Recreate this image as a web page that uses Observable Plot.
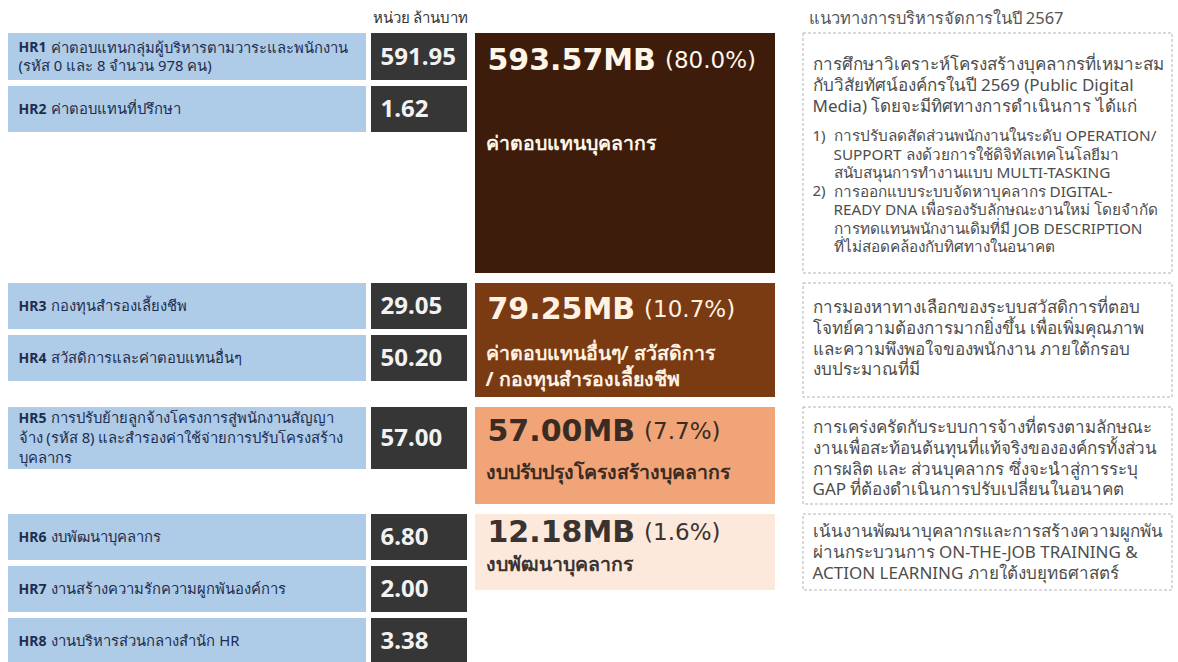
<!DOCTYPE html>
<html><head><meta charset="utf-8">
<script src="https://cdn.jsdelivr.net/npm/d3@7"></script>
<script src="https://cdn.jsdelivr.net/npm/@observablehq/plot@0.6"></script>
<style>
body{margin:0;background:#fff;}
#chart svg{display:block;}
</style></head><body><div id="chart"></div>
<script>
// ---------------- DATA ----------------
const codes = ["HR1","HR2","HR3","HR4","HR5","HR6","HR7","HR8"];
const labels = [
  "ค่าตอบแทนกลุ่มผู้บริหารตามวาระและพนักงาน\n(รหัส 0 และ 8 จำนวน 978 คน)",
  "ค่าตอบแทนที่ปรึกษา",
  "กองทุนสำรองเลี้ยงชีพ",
  "สวัสดิการและค่าตอบแทนอื่นๆ",
  "การปรับย้ายลูกจ้างโครงการสู่พนักงานสัญญา\nจ้าง (รหัส 8) และสำรองค่าใช้จ่ายการปรับโครงสร้าง\nบุคลากร",
  "งบพัฒนาบุคลากร",
  "งานสร้างความรักความผูกพันองค์การ",
  "งานบริหารส่วนกลางสำนัก HR"
];
const values = [591.95, 1.62, 29.05, 50.20, 57.00, 6.80, 2.00, 3.38];
const rowGroup = [0, 0, 1, 1, 2, 3, 3, 3];

const groupKeys = ["pay", "welfare", "restructure", "development"];
const groupTitles = [
  "ค่าตอบแทนบุคลากร",
  "ค่าตอบแทนอื่นๆ/ สวัสดิการ\n/ กองทุนสำรองเลี้ยงชีพ",
  "งบปรับปรุงโครงสร้างบุคลากร",
  "งบพัฒนาบุคลากร"
];
const groupNotes = [
  "การศึกษาวิเคราะห์โครงสร้างบุคลากรที่เหมาะสม\nกับวิสัยทัศน์องค์กรในปี 2569 (Public Digital\nMedia) โดยจะมีทิศทางการดำเนินการ ได้แก่",
  "การมองหาทางเลือกของระบบสวัสดิการที่ตอบ\nโจทย์ความต้องการมากยิ่งขึ้น เพื่อเพิ่มคุณภาพ\nและความพึงพอใจของพนักงาน ภายใต้กรอบ\nงบประมาณที่มี",
  "การเคร่งครัดกับระบบการจ้างที่ตรงตามลักษณะ\nงานเพื่อสะท้อนต้นทุนที่แท้จริงขององค์กรทั้งส่วน\nการผลิต และ ส่วนบุคลากร ซึ่งจะนำสู่การระบุ\nGAP ที่ต้องดำเนินการปรับเปลี่ยนในอนาคต",
  "เน้นงานพัฒนาบุคลากรและการสร้างความผูกพัน\nผ่านกระบวนการ ON-THE-JOB TRAINING &\nACTION LEARNING ภายใต้งบยุทธศาสตร์"
];
const noteItemNums = ["1)", "2)"];
const noteItemTexts = [
  "การปรับลดสัดส่วนพนักงานในระดับ OPERATION/\nSUPPORT ลงด้วยการใช้ดิจิทัลเทคโนโลยีมา\nสนับสนุนการทำงานแบบ MULTI-TASKING",
  "การออกแบบระบบจัดหาบุคลากร DIGITAL-\nREADY DNA เพื่อรองรับลักษณะงานใหม่ โดยจำกัด\nการทดแทนพนักงานเดิมที่มี JOB DESCRIPTION\nที่ไม่สอดคล้องกับทิศทางในอนาคต"
];
const unitLabel = "หน่วย ล้านบาท";
const notesHeader = "แนวทางการบริหารจัดการในปี 2567";

// ---------------- STYLE / LAYOUT ----------------
const W = 1178, H = 662;
const FONT = "'Noto Sans', 'DejaVu Sans', sans-serif";
const BIGFONT = "'DejaVu Sans', 'Noto Sans', sans-serif";
const groupFill = ["#3d1c0b", "#7a3a12", "#f0a477", "#fce9dc"];
const groupInk  = ["#fff6ea", "#fff2e2", "#3b2b22", "#3a3330"];
const col = {label: [8, 366], value: [371, 467], summary: [475, 775], note: [803, 1172]};
const LY = {
  top: 33, rowMin: 46, linePx: 15, rowPad: 17, rowGap: 6, groupGap: 10,
  groupBoxH: [240, 114, 97, 76],
  amountDy: [27, 26, 24, 18], titleDy: [110, 70, 65, 50], titleStep: 26,
  noteDy: [31, 24, 20, 17], noteStep: 20.8, itemGap: 30, itemStep: 18.5,
  labelStep: 20
};
const ctx = document.createElement("canvas").getContext("2d");
const measure = (t, font) => { ctx.font = font; return ctx.measureText(t).width; };

// ---------------- DERIVED ----------------
const total = d3.sum(values);
const rows = codes.map((code, i) => ({code, label: labels[i], value: values[i], group: rowGroup[i]}));
const groups = groupKeys.map((key, g) => {
  const amount = d3.sum(rows.filter(r => r.group === g), r => r.value);
  return {key, g, amount, share: amount / total, title: groupTitles[g], note: groupNotes[g]};
});
let yCursor = LY.top;
groups.forEach(gr => {
  gr.y1 = yCursor;
  let ry = yCursor;
  rows.filter(r => r.group === gr.g).forEach(r => {
    const n = r.label.split("\n").length;
    r.y1 = ry; r.y2 = ry + Math.max(LY.rowMin, n * LY.linePx + LY.rowPad);
    ry = r.y2 + LY.rowGap;
  });
  gr.y2 = yCursor + LY.groupBoxH[gr.g];
  yCursor = Math.max(gr.y2, ry - LY.rowGap) + LY.groupGap;
});

const labelFontBold = `bold 14px ${FONT}`;
const labelLines = [];
rows.forEach(r => {
  const lines = r.label.split("\n");
  const cy = (r.y1 + r.y2) / 2;
  const codeW = measure(r.code, labelFontBold) + 5;
  const step = lines.length > 2 ? LY.labelStep : LY.labelStep - 2;
  lines.forEach((t, i) => labelLines.push({
    text: t, y: cy + (i - (lines.length - 1) / 2) * step,
    x: col.label[0] + 10 + (i === 0 ? codeW : 0), code: i === 0 ? r.code : null
  }));
});
const codeMarks = labelLines.filter(d => d.code);

const amountFont = `bold 30px ${BIGFONT}`;
groups.forEach(gr => {
  gr.amountText = d3.format(".2f")(gr.amount) + "MB";
  gr.shareText = "(" + d3.format(".1f")(gr.share * 100) + "%)";
  gr.ay = gr.y1 + LY.amountDy[gr.g];
  gr.sx = col.summary[0] + 12 + measure(gr.amountText, amountFont) + 9;
});
const titleLines = groups.flatMap(gr => gr.title.split("\n").map((t, i) => ({
  text: t, g: gr.g, y: gr.y1 + LY.titleDy[gr.g] + i * LY.titleStep
})));
const noteLines = [];
groups.forEach(gr => {
  const lines = gr.note.split("\n");
  let y = gr.y1 + LY.noteDy[gr.g];
  lines.forEach((t, i) => noteLines.push({text: t, x: col.note[0] + 9, y: y + i * LY.noteStep, size: 17}));
  if (gr.g === 0) {
    let iy = y + (lines.length - 1) * LY.noteStep + LY.itemGap;
    noteItemTexts.forEach((it, k) => {
      noteLines.push({text: noteItemNums[k], x: col.note[0] + 9, y: iy, size: 15});
      it.split("\n").forEach(t => { noteLines.push({text: t, x: col.note[0] + 30, y: iy, size: 15.3}); iy += LY.itemStep; });
    });
  }
});
const headers = [
  {text: unitLabel, x: col.value[0] + 1, y: 18, bold: true, size: 15},
  {text: notesHeader, x: col.note[0] + 5, y: 18, bold: false, size: 16.5}
];

// ---------------- PLOT ----------------
const chart = Plot.plot({
  width: W, height: H, margin: 0,
  style: {fontFamily: FONT, background: "#fff"},
  x: {domain: [0, W], range: [0, W], axis: null},
  y: {domain: [0, H], range: [0, H], axis: null},
  color: {domain: groupKeys, range: groupFill},
  marks: [
    Plot.rect(rows, {x1: col.label[0], x2: col.label[1], y1: "y1", y2: "y2", fill: "#aecbe8"}),
    Plot.rect(rows, {x1: col.value[0], x2: col.value[1], y1: "y1", y2: "y2", fill: "#363636"}),
    Plot.text(codeMarks, {x: col.label[0] + 10, y: "y", text: "code", textAnchor: "start", fontSize: 14, fontWeight: "bold", fill: "#1e2d4d"}),
    Plot.text(labelLines, {x: "x", y: "y", text: "text", textAnchor: "start", fontSize: 14.8, fill: "#1e2d4d"}),
    Plot.text(rows, {x: col.value[0] + 9, y: r => (r.y1 + r.y2) / 2, text: r => d3.format(".2f")(r.value), textAnchor: "start", fontSize: 24, fontWeight: "bold", fill: "#f2f2f2"}),
    Plot.rect(groups, {x1: col.summary[0], x2: col.summary[1], y1: "y1", y2: "y2", fill: "key"}),
    Plot.text(groups, {x: col.summary[0] + 12, y: "ay", text: "amountText", textAnchor: "start", fontSize: 30, fontWeight: "bold", fontFamily: BIGFONT, fill: d => groupInk[d.g]}),
    Plot.text(groups, {x: "sx", y: "ay", text: "shareText", textAnchor: "start", fontSize: 23, fontFamily: BIGFONT, fill: d => groupInk[d.g]}),
    Plot.text(titleLines, {x: col.summary[0] + 10, y: "y", text: "text", textAnchor: "start", fontSize: 19.5, fontWeight: "bold", fill: d => groupInk[d.g]}),
    Plot.rect(groups, {x1: col.note[0], x2: col.note[1], y1: "y1", y2: "y2", fill: "none", stroke: "#b3b3b3", strokeDasharray: "3,2", strokeWidth: 1}),
    Plot.text(noteLines, {x: "x", y: "y", text: "text", textAnchor: "start", fontSize: "size", fill: "#4d4d4d"}),
    Plot.text(headers, {x: "x", y: "y", text: "text", textAnchor: "start", fontSize: "size", fontWeight: d => d.bold ? "bold" : "normal", fill: d => d.bold ? "#333" : "#555"})
  ]
});
document.getElementById("chart").append(chart);
</script>
</body></html>
